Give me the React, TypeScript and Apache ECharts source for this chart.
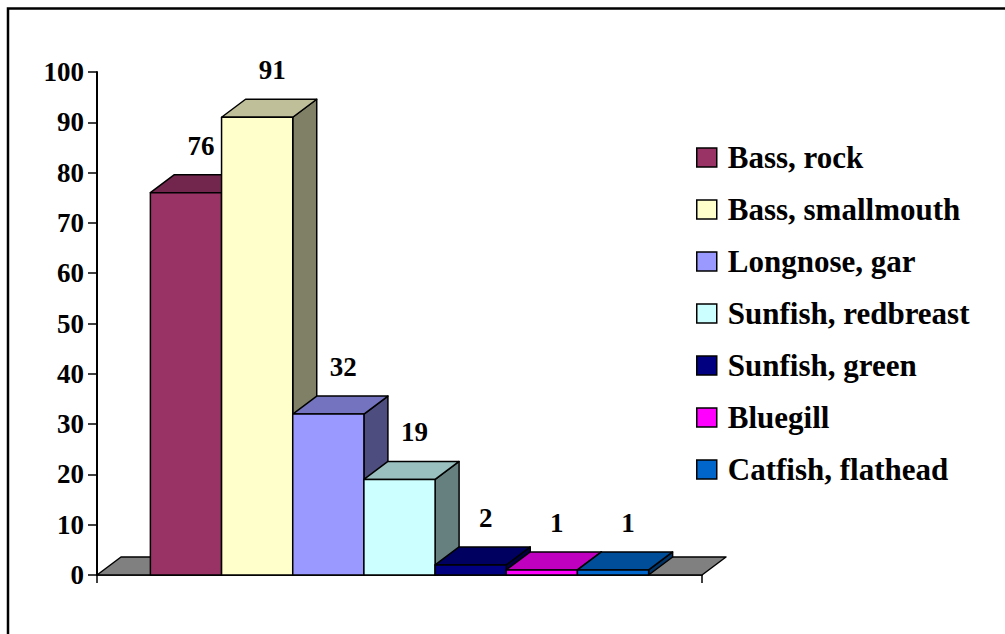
import React, { useEffect, useRef } from "react";
import * as echarts from "echarts";

// ---- data ----
const species: string[] = [
  "Bass, rock",
  "Bass, smallmouth",
  "Longnose, gar",
  "Sunfish, redbreast",
  "Sunfish, green",
  "Bluegill",
  "Catfish, flathead",
];
const counts: number[] = [76, 91, 32, 19, 2, 1, 1];
const faceColors: string[] = ["#993366", "#FFFFCC", "#9999FF", "#CCFFFF", "#000080", "#FF00FF", "#0066CC"];
const yMin = 0;
const yMax = 100;
const yStep = 10;

// ---- style ----
const FONT = '"Liberation Serif", "Times New Roman", serif';
const DX = 24; // depth offset x (px)
const DY = -18; // depth offset y (px)
const HALF_GAP = 0.75; // Excel gap width 150% split on both sides

function shade(hex: string, f: number): string {
  const n = parseInt(hex.slice(1), 16);
  const r = Math.round(((n >> 16) & 255) * f);
  const g = Math.round(((n >> 8) & 255) * f);
  const b = Math.round((n & 255) * f);
  return `rgb(${r},${g},${b})`;
}

export default function App() {
  const ref = useRef<HTMLDivElement>(null);

  useEffect(() => {
    if (!ref.current) return;
    const chart = echarts.init(ref.current, undefined, { renderer: "svg" });

    const outline = { stroke: "#000", lineWidth: 1.5, lineJoin: "round" as const };

    const floorSeries: any = {
      type: "custom",
      name: "__floor",
      z: 1,
      silent: true,
      data: [[0, 0]],
      renderItem: (_params: any, api: any) => {
        const base = api.coord([0, yMin]);
        const band = api.size([1, 0])[0];
        const xl = base[0] - band / 2;
        const xr = base[0] + band / 2;
        const y = base[1];
        return {
          type: "polygon",
          shape: { points: [[xl, y], [xl + DX, y + DY], [xr + DX, y + DY], [xr, y]] },
          style: { fill: "#808080", ...outline },
        };
      },
    };

    const barSeries = species.map((name, s) => ({
      type: "custom",
      name,
      z: 2 + s,
      itemStyle: { color: faceColors[s], borderColor: "#000", borderWidth: 1.5 },
      data: [[0, counts[s]]],
      renderItem: (_params: any, api: any) => {
        const base = api.coord([0, yMin]);
        const top = api.coord([0, api.value(1)]);
        const band = api.size([1, 0])[0];
        const barW = band / (species.length + 2 * HALF_GAP);
        const x0 = base[0] - band / 2 + (HALF_GAP + s) * barW;
        const x1 = x0 + barW;
        const yb = base[1];
        const yt = top[1];
        const c = faceColors[s];
        return {
          type: "group",
          children: [
            {
              type: "polygon",
              shape: { points: [[x1, yb], [x1 + DX, yb + DY], [x1 + DX, yt + DY], [x1, yt]] },
              style: { fill: shade(c, 0.5), ...outline },
            },
            {
              type: "polygon",
              shape: { points: [[x0, yt], [x0 + DX, yt + DY], [x1 + DX, yt + DY], [x1, yt]] },
              style: { fill: shade(c, 0.75), ...outline },
            },
            {
              type: "rect",
              shape: { x: x0, y: yt, width: barW, height: yb - yt },
              style: { fill: c, ...outline },
            },
            {
              type: "text",
              style: {
                text: String(api.value(1)),
                x: (x0 + x1) / 2 + 15,
                y: yt + DY - 29,
                textAlign: "center",
                textVerticalAlign: "middle",
                font: `bold 27px ${FONT}`,
                fill: "#000",
              },
            },
          ],
        };
      },
    }));

    chart.setOption({
      animation: false,
      backgroundColor: "#fff",
      graphic: [
        {
          type: "rect",
          shape: { x: 8, y: 8.5, width: 1010, height: 640 },
          style: { fill: "none", stroke: "#000", lineWidth: 2.5 },
          z: 100,
        },
      ],
      grid: { left: 97, right: 303, top: 72, bottom: 59, containLabel: false },
      legend: {
        orient: "vertical",
        left: 691,
        top: 137,
        itemWidth: 20,
        itemHeight: 19,
        itemGap: 21,
        icon: "rect",
        selectedMode: false,
        data: species.map((n, i) => ({
          name: n,
          itemStyle: { color: faceColors[i], borderColor: "#000", borderWidth: 1.5 },
        })),
        textStyle: {
          fontFamily: FONT,
          fontWeight: "bold",
          fontSize: 31,
          lineHeight: 30,
          color: "#000",
          padding: [0, 0, 0, 6],
        },
      },
      xAxis: {
        type: "category",
        data: [""],
        boundaryGap: true,
        axisLine: { show: true, lineStyle: { color: "#000", width: 1.5 } },
        axisTick: { show: true, length: 8, lineStyle: { color: "#000", width: 1.5 } },
        axisLabel: { show: false },
        splitLine: { show: false },
      },
      yAxis: {
        type: "value",
        min: yMin,
        max: yMax,
        interval: yStep,
        axisLine: { show: true, lineStyle: { color: "#000", width: 2 } },
        axisTick: { show: true, length: 9, lineStyle: { color: "#000", width: 1.5 } },
        axisLabel: {
          margin: 13,
          color: "#000",
          fontFamily: FONT,
          fontWeight: "bold",
          fontSize: 27,
        },
        splitLine: { show: false },
      },
      series: [floorSeries, ...barSeries],
    });

    return () => {
      chart.dispose();
    };
  }, []);

  return (
    <div
      ref={ref}
      style={{ position: "absolute", left: 0, top: 0, width: 1005, height: 634, background: "#fff" }}
    />
  );
}
